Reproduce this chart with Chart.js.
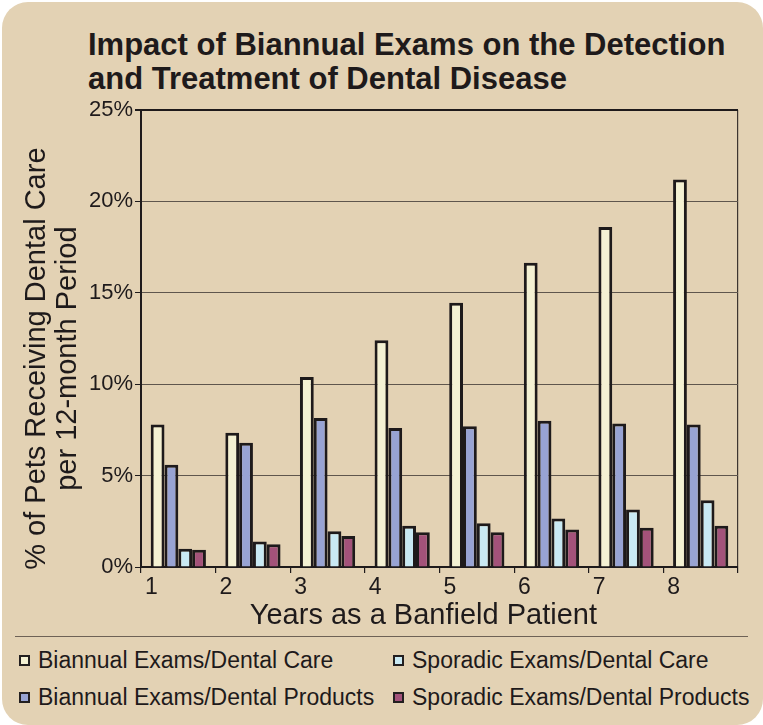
<!DOCTYPE html>
<html>
<head>
<meta charset="utf-8">
<script src="https://cdn.jsdelivr.net/npm/chart.js@4/dist/chart.umd.min.js"></script>
<style>
  html, body { margin:0; padding:0; background:#ffffff; width:763px; height:725px; overflow:hidden; }
  #panel { position:absolute; left:2px; top:2px; width:761px; height:723px; border-radius:26px; background:#E3D2B4; }
  #title { position:absolute; left:88px; top:28px; font-family:"Liberation Sans Narrow","Liberation Sans",Arial,sans-serif; font-weight:bold; font-size:31px; line-height:34px; color:#1e1a1b; white-space:nowrap; }
  #chartBox { position:absolute; left:0; top:0; width:763px; height:640px; }
  #rule { position:absolute; left:15px; top:636px; width:733px; height:0; border-top:1.5px solid #6e6256; }
  #legend { position:absolute; left:0; top:646px; width:763px; font-family:"Liberation Sans Narrow","Liberation Sans",Arial,sans-serif; font-size:23px; color:#1e1a1b; }
  .item { position:absolute; white-space:nowrap; line-height:28px; }
  .sw { display:inline-block; width:7px; height:7px; border:2px solid #231f20; margin-right:8px; vertical-align:2px; }
</style>
</head>
<body>
<div id="panel"></div>
<div id="title">Impact of Biannual Exams on the Detection<br>and Treatment of Dental Disease</div>
<div id="chartBox"><canvas id="c" width="763" height="640"></canvas></div>
<div id="rule"></div>
<div id="legend"></div>
<script>
const categories = ["1", "2", "3", "4", "5", "6", "7", "8"];
const biannualCare     = [7.8, 7.35, 10.4, 12.4, 14.45, 16.65, 18.6, 21.2];
const biannualProducts = [5.6, 6.8, 8.15, 7.6, 7.7, 8.0, 7.85, 7.8];
const sporadicCare     = [1.0, 1.4, 1.95, 2.25, 2.4, 2.65, 3.15, 3.65];
const sporadicProducts = [0.95, 1.25, 1.7, 1.9, 1.9, 2.05, 2.15, 2.25];
const yTicks = [0, 5, 10, 15, 20, 25];

const dark = '#1e1a1b';
const seriesNames = ["Biannual Exams/Dental Care", "Biannual Exams/Dental Products", "Sporadic Exams/Dental Care", "Sporadic Exams/Dental Products"];
const seriesColors = ['#F4F1D3', '#98A3D3', '#C9E9F3', '#A3527A'];
const seriesData = [biannualCare, biannualProducts, sporadicCare, sporadicProducts];

const chart = new Chart(document.getElementById('c'), {
  type: 'bar',
  data: {
    labels: categories,
    datasets: seriesNames.map((n, i) => ({
      label: n,
      data: seriesData[i],
      backgroundColor: seriesColors[i],
      borderColor: dark,
      borderWidth: 3,
      categoryPercentage: 0.74,
      barPercentage: 1.0
    }))
  },
  options: {
    responsive: false,
    animation: false,
    layout: { padding: { top: 110, right: 25, bottom: 7, left: 0 } },
    plugins: { legend: { display: false }, tooltip: { enabled: false }, title: { display: false } },
    scales: {
      x: {
        grid: {
          drawOnChartArea: true,
          color: ctx => ctx.type === 'tick' ? 'rgba(0,0,0,0)' : '#3d3530',
          tickColor: dark,
          tickLength: 6,
          lineWidth: 1.2
        },
        border: { display: true, color: dark, width: 2 },
        ticks: { color: dark, font: { family: '"Liberation Sans", Arial, sans-serif', size: 23 }, labelOffset: -27, padding: 1, maxRotation: 0 },
        title: { display: true, text: 'Years as a Banfield Patient    ', color: dark, font: { family: '"Liberation Sans", Arial, sans-serif', size: 29 }, padding: { top: 0, bottom: 0 } },
        afterFit: s => { s.height = 66; }
      },
      y: {
        min: 0, max: 25,
        afterBuildTicks: s => { s.ticks = yTicks.map(v => ({ value: v })); },
        grid: {
          color: ctx => ctx.tick && ctx.tick.value === 25 ? dark : '#5f564d',
          lineWidth: ctx => ctx.tick && ctx.tick.value === 25 ? 2 : 1,
          tickColor: dark,
          tickLength: 6
        },
        border: { display: true, color: dark, width: 2 },
        ticks: { color: dark, font: { family: '"Liberation Sans", Arial, sans-serif', size: 22 }, padding: 2, callback: v => v + '%' },
        title: { display: true, text: ['% of Pets Receiving Dental Care     ', 'per 12-month Period     '], color: dark, font: { family: '"Liberation Sans", Arial, sans-serif', size: 29, lineHeight: 1.07 }, padding: { top: 21, bottom: 0 } },
        afterFit: s => { s.width = 141; }
      }
    }
  }
});

// HTML legend built from the chart's datasets (two columns)
const legendOrder = [0, 2, 1, 3];
const legendPos = [[19, 0], [393, 0], [19, 37], [393, 37]];
const lg = document.getElementById('legend');
legendOrder.forEach((di, k) => {
  const ds = chart.data.datasets[di];
  const el = document.createElement('div');
  el.className = 'item';
  el.style.left = legendPos[k][0] + 'px';
  el.style.top = legendPos[k][1] + 'px';
  const sw = document.createElement('span');
  sw.className = 'sw';
  sw.style.background = ds.backgroundColor;
  el.appendChild(sw);
  el.appendChild(document.createTextNode(ds.label));
  lg.appendChild(el);
});
</script>
</body>
</html>
